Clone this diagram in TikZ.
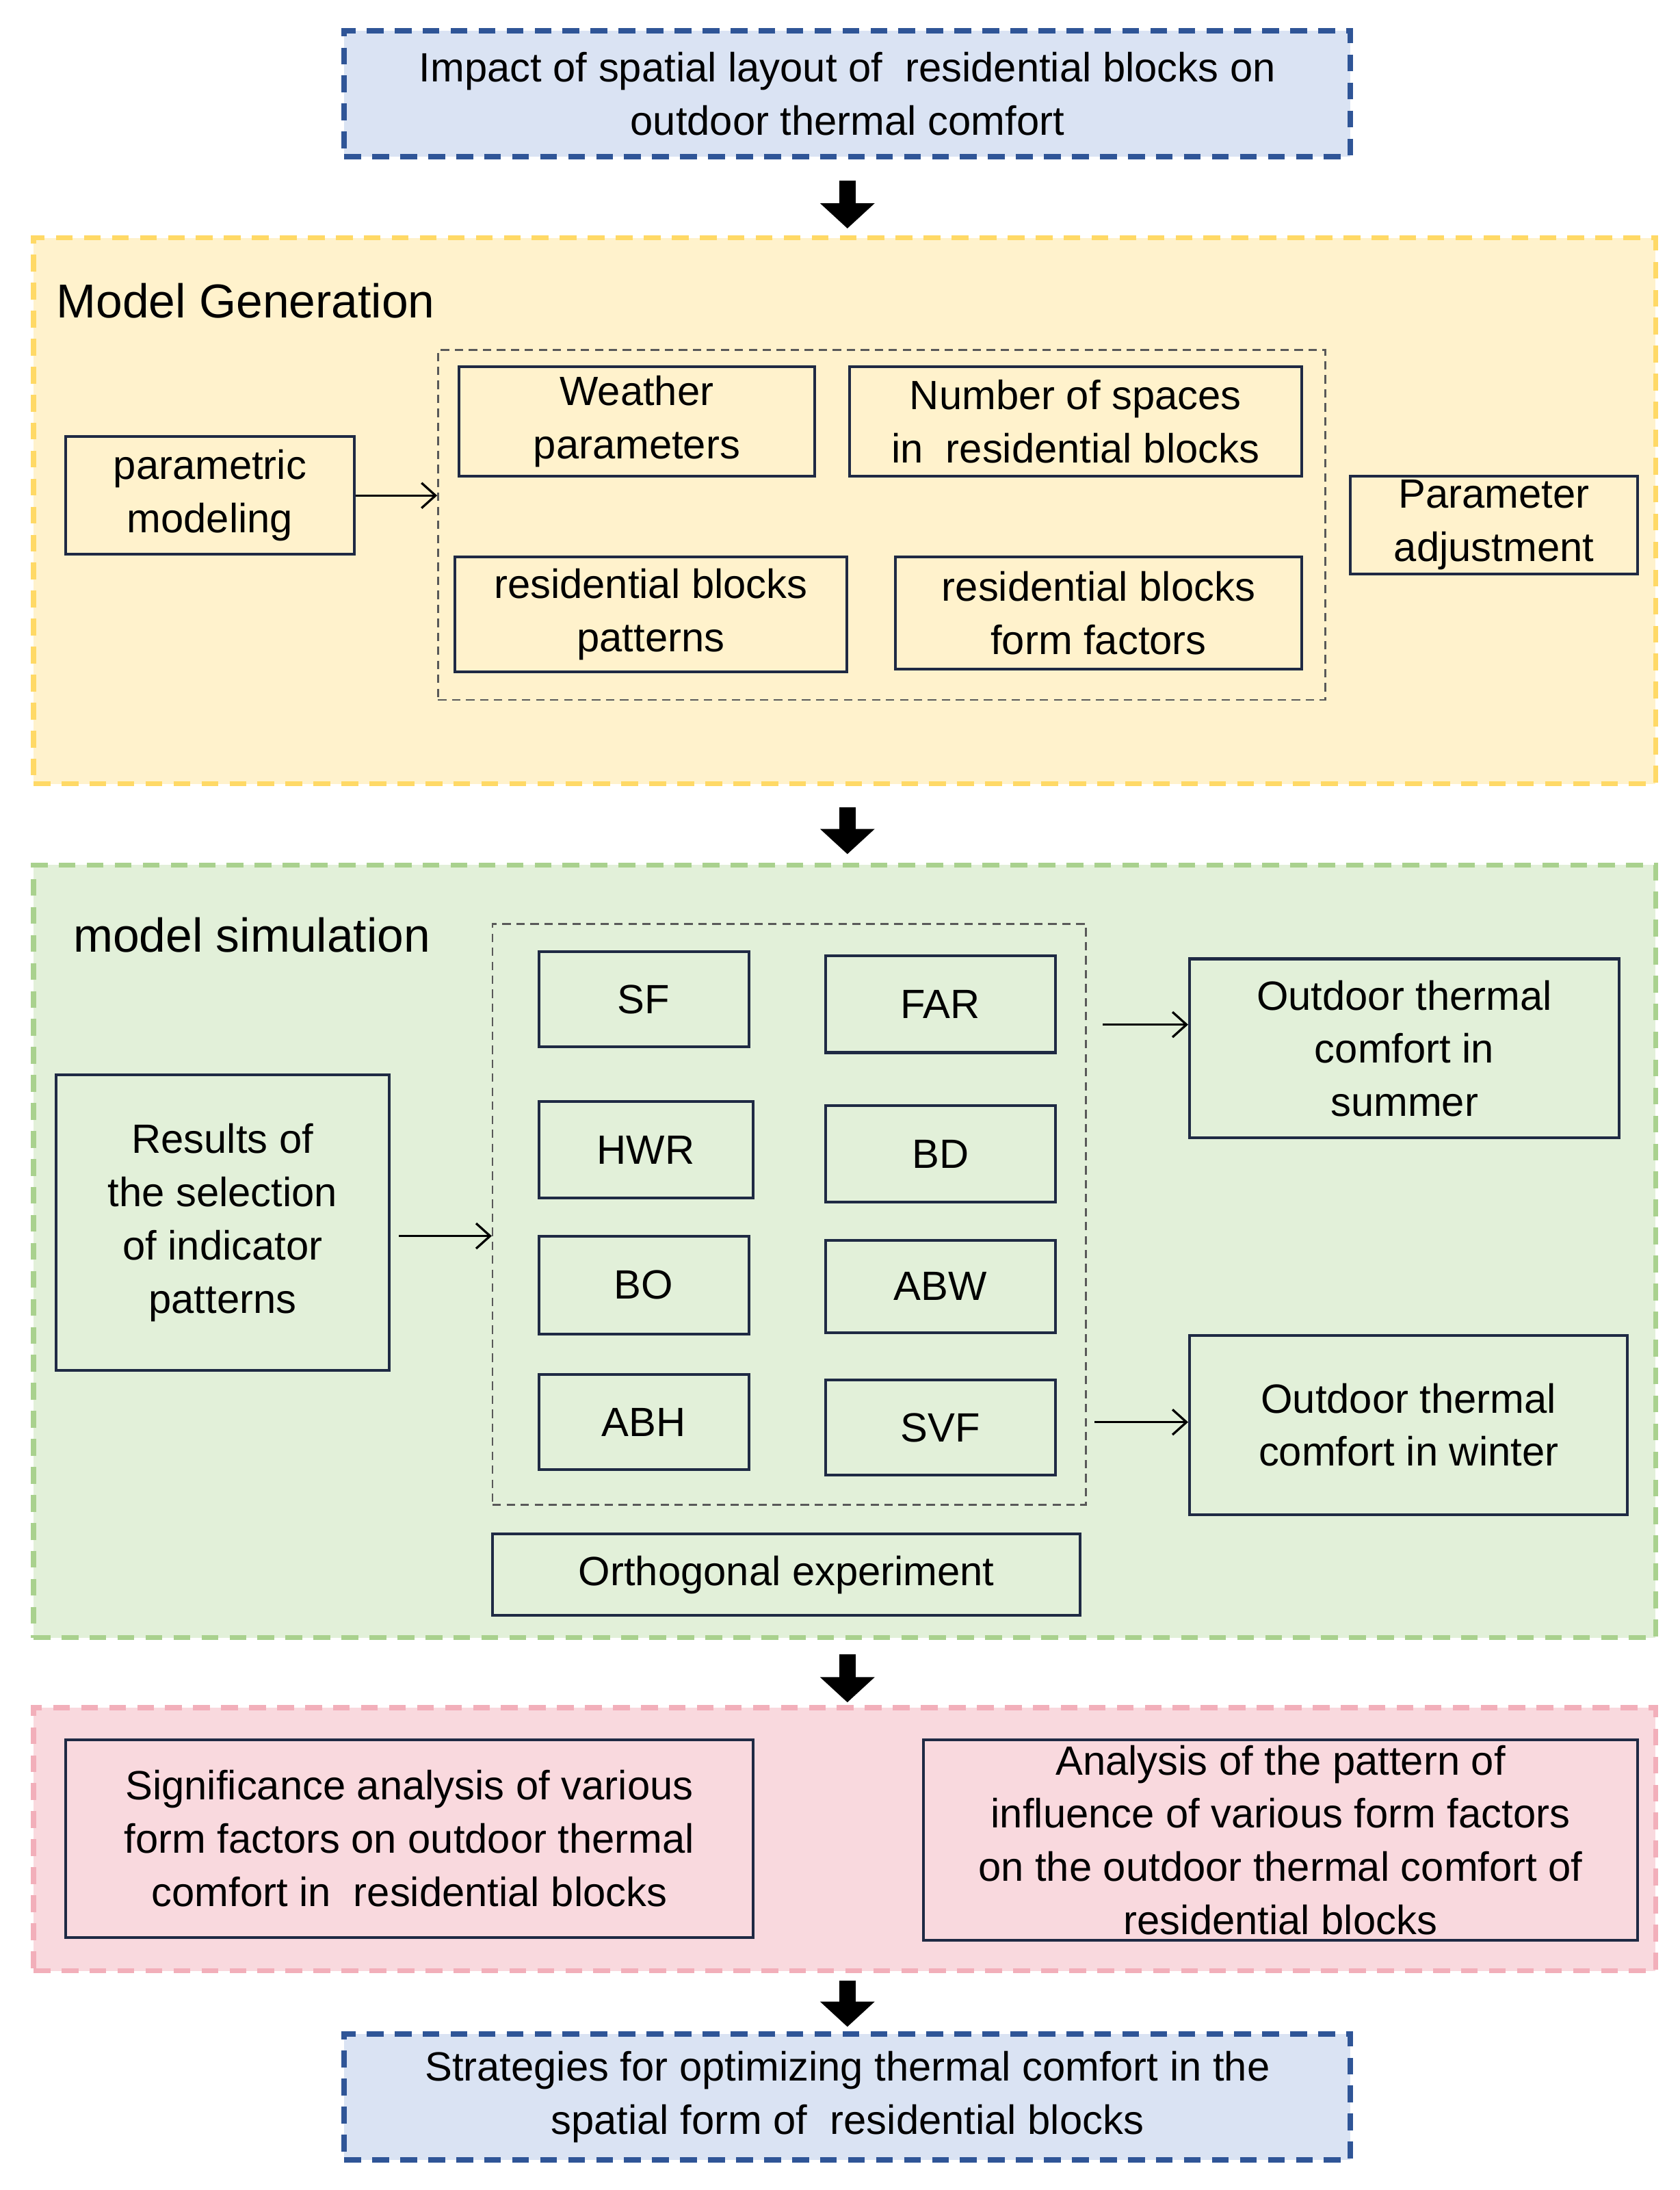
\documentclass[tikz,border=0pt]{standalone}
\usepackage{fontspec}
\setmainfont{Liberation Sans}
\usetikzlibrary{arrows.meta}
\definecolor{bfill}{HTML}{DAE3F3}\definecolor{bline}{HTML}{2F5597}
\definecolor{yfill}{HTML}{FFF2CC}\definecolor{yline}{HTML}{FFD966}
\definecolor{gfill}{HTML}{E2F0D9}\definecolor{gline}{HTML}{A9D18E}
\definecolor{pfill}{HTML}{F9D9DE}\definecolor{pline}{HTML}{F2AFBA}
\definecolor{navy}{HTML}{1F2A44}
\begin{document}
\begin{tikzpicture}[x=1pt,y=1pt,
  txt/.style={font=\fontsize{14.6}{19}\selectfont,align=center,inner sep=0pt},
  box/.style={txt,draw=navy,line width=1pt,rectangle},
  panel/.style={rectangle,line width=1.8pt,dash pattern=on 6pt off 4pt,inner sep=0pt},
  term/.style={txt,rectangle,fill=bfill,draw=bline,line width=2pt,dash pattern=on 6pt off 4pt},
  grp/.style={rectangle,draw=black!65,line width=0.6pt,dash pattern=on 3pt off 2pt,inner sep=0pt},
  blk/.style={-{Triangle[width=19pt,length=9pt]},line width=6pt},
  con/.style={-{Straight Barb[length=5pt,width=9pt]},line width=0.8pt},
  title/.style={font=\fontsize{17}{19}\selectfont,anchor=west,inner sep=0pt}]
\useasboundingbox (0,0) rectangle (600,-782.3);
% top
\node[term,minimum width=359.5pt,minimum height=45pt] (top) at (302.75,-33.5) {Impact of spatial layout of \ residential blocks on\\outdoor thermal comfort};
% yellow panel
\node[panel,fill=yfill,draw=yline,minimum width=579.5pt,minimum height=195pt] (yel) at (301.75,-182.5) {};
\node[title] (mg) at (20,-107.5) {Model Generation};
\node[grp,minimum width=317pt,minimum height=125pt] (g1) at (315,-187.5) {};
\node[box,minimum width=127pt,minimum height=39pt] (wea) at (227.5,-150.5) {Weather\\parameters};
\node[box,minimum width=161.5pt,minimum height=39pt] (num) at (384.25,-150.5) {Number of spaces\\in \ residential blocks};
\node[box,minimum width=140pt,minimum height=41pt] (pat) at (232.5,-219.5) {residential blocks\\patterns};
\node[box,minimum width=145pt,minimum height=40pt] (ff) at (392.5,-219) {residential blocks\\form factors};
\node[box,minimum width=103pt,minimum height=42pt] (pm) at (75,-177) {parametric\\modeling};
\node[box,minimum width=102.5pt,minimum height=35pt] (pa) at (533.75,-187.5) {Parameter\\adjustment};
\draw[con] (pm.east) -- (pm.east -| g1.west);
% green panel
\node[panel,fill=gfill,draw=gline,minimum width=579.5pt,minimum height=276pt] (grn) at (301.75,-447) {};
\node[title] (ms) at (26,-334) {model simulation};
\node[grp,minimum width=212pt,minimum height=207.5pt] (g2) at (282,-433.75) {};
\node[box,minimum width=75pt,minimum height=34pt] (sf) at (230,-357) {SF};
\node[box,minimum width=82pt,minimum height=34.5pt] (far) at (336,-358.75) {FAR};
\node[box,minimum width=76.5pt,minimum height=34.5pt] (hwr) at (230.75,-410.75) {HWR};
\node[box,minimum width=82pt,minimum height=34.5pt] (bd) at (336,-412.25) {BD};
\node[box,minimum width=75pt,minimum height=35pt] (bo) at (230,-459) {BO};
\node[box,minimum width=82pt,minimum height=33pt] (abw) at (336,-459.5) {ABW};
\node[box,minimum width=75pt,minimum height=34pt] (abh) at (230,-508) {ABH};
\node[box,minimum width=82pt,minimum height=34pt] (svf) at (336,-510) {SVF};
\node[box,minimum width=119pt,minimum height=105.5pt] (res) at (79.5,-436.75) {Results of\\the selection\\of indicator\\patterns};
\node[box,minimum width=153.5pt,minimum height=64pt] (sum) at (501.75,-374.5) {Outdoor thermal\\comfort in\\summer};
\node[box,minimum width=156.5pt,minimum height=64pt] (win) at (503.25,-509) {Outdoor thermal\\comfort in winter};
\node[box,minimum width=210pt,minimum height=29pt] (ort) at (281,-562.5) {Orthogonal experiment};
\coordinate (a1) at (142.5,-441.5);
\coordinate (a2) at (394,-366);
\coordinate (a3) at (391,-508);
\draw[con] (a1) -- (a1 -| g2.west);
\draw[con] (a2) -- (a2 -| sum.west);
\draw[con] (a3) -- (a3 -| win.west);
% pink panel
\node[panel,fill=pfill,draw=pline,minimum width=579.5pt,minimum height=94pt] (pnk) at (301.75,-657) {};
\node[box,minimum width=245.5pt,minimum height=70.5pt] (sig) at (146.25,-656.75) {Significance analysis of various\\form factors on outdoor thermal\\comfort in \ residential blocks};
\node[box,minimum width=255pt,minimum height=71.5pt] (ana) at (457.5,-657.25) {Analysis of the pattern of\\influence of various form factors\\on the outdoor thermal comfort of\\residential blocks};
% bottom
\node[term,minimum width=359.5pt,minimum height=45pt] (bot) at (302.75,-749) {Strategies for optimizing thermal comfort in the\\spatial form of \ residential blocks};
% block arrows
\draw[blk,shorten <=7.5pt,shorten >=2.5pt] (top.south) -- (yel.north -| top.south);
\draw[blk,shorten <=7.5pt,shorten >=3pt] (yel.south -| top.south) -- (grn.north -| top.south);
\draw[blk,shorten <=5pt,shorten >=1pt] (grn.south -| top.south) -- (pnk.north -| top.south);
\draw[blk,shorten <=2.5pt,shorten >=1.5pt] (pnk.south -| top.south) -- (bot.north);
\end{tikzpicture}
\end{document}
